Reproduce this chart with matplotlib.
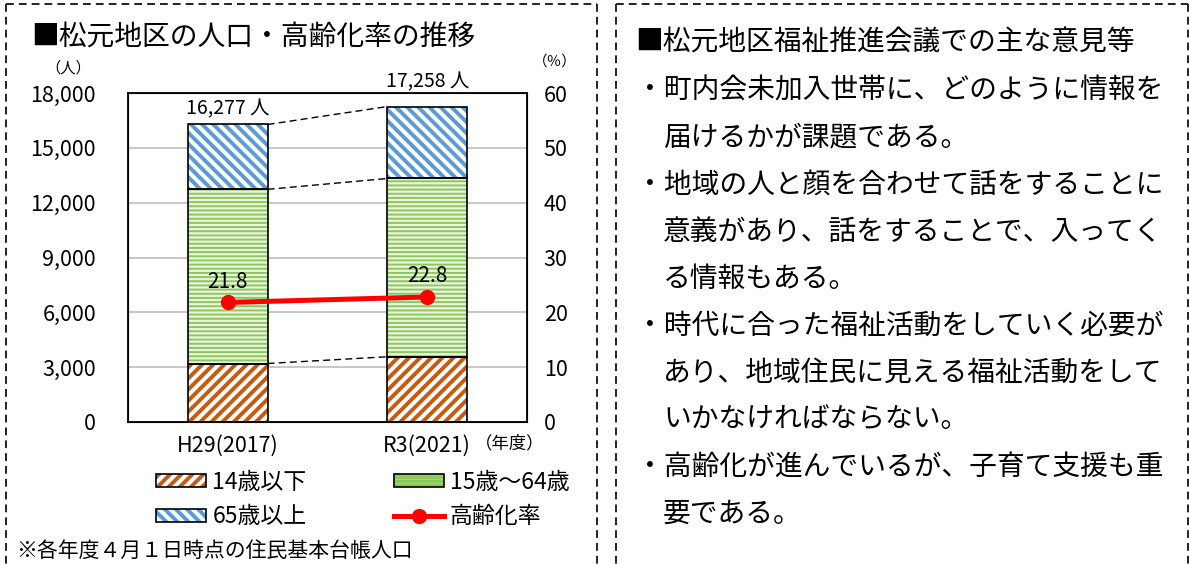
import matplotlib.pyplot as plt
import matplotlib.patches as mpatches
from matplotlib.lines import Line2D
import numpy as np

plt.rcParams['font.family'] = ['Noto Sans CJK JP', 'DejaVu Sans']

# population by age group (people) and aging rate (%)
years = ["H29(2017)", "R3(2021)"]
age_0_14 = [3200, 3570]
age_15_64 = [9529, 9753]
age_65_up = [3548, 3935]
totals = [16277, 17258]
aging_rate = [21.8, 22.8]

left_ticks = [0, 3000, 6000, 9000, 12000, 15000, 18000]
right_ticks = [0, 10, 20, 30, 40, 50, 60]

series_names = ["14歳以下", "15歳～64歳", "65歳以上", "高齢化率"]

opinions = [
    ("・町内会未加入世帯に、どのように情報を", "届けるかが課題である。"),
    ("・地域の人と顔を合わせて話をすることに", "意義があり、話をすることで、入ってく", "る情報もある。"),
    ("・時代に合った福祉活動をしていく必要が", "あり、地域住民に見える福祉活動をして", "いかなければならない。"),
    ("・高齢化が進んでいるが、子育て支援も重", "要である。"),
]

W, H = 1190, 564
fig = plt.figure(figsize=(W / 100, H / 100), dpi=100)


def fx(px):
    return px / W


def fy(py):
    return 1 - py / H


# dashed frames around the two panels
box_style = dict(color="#222222", lw=1.4, linestyle=(0, (4, 2.6)), transform=fig.transFigure)
for x0, x1 in [(6, 597), (616, 1188)]:
    fig.add_artist(Line2D([fx(x0), fx(x0)], [fy(4), fy(570)], **box_style))
    fig.add_artist(Line2D([fx(x1), fx(x1)], [fy(4), fy(570)], **box_style))
    fig.add_artist(Line2D([fx(x0), fx(x1)], [fy(4), fy(4)], **box_style))

fig.text(fx(31), fy(38), "■松元地区の人口・高齢化率の推移", fontsize=20, va="center", ha="left")

# --- stacked bar chart ---
ax = fig.add_axes([fx(128), fy(422), fx(527) - fx(128), fy(93) - fy(422)])
x = np.arange(len(years))
bw = 0.4

bottoms = np.zeros(len(years))
groups = [
    (age_0_14, "white", "#C55A11", "///", 2.8),
    (age_15_64, "#EAF4E0", "#8CC85A", "----", 1.4),
    (age_65_up, "white", "#5B9BD5", "\\\\\\", 2.8),
]
legend_patches = []
for vals, face, hcol, hatch, hlw in groups:
    plt.rcParams['hatch.linewidth'] = hlw
    bars = ax.bar(x, vals, bw, bottom=bottoms, color=face, edgecolor=hcol, hatch=hatch, linewidth=0, zorder=2)
    for b in bars:
        if hasattr(b, "set_hatch_linewidth"):
            b.set_hatch_linewidth(hlw)
    ax.bar(x, vals, bw, bottom=bottoms, fill=False, edgecolor="black", linewidth=1.2, zorder=3)
    hp = mpatches.Patch(facecolor=face, edgecolor=hcol, hatch=hatch, linewidth=0)
    if hasattr(hp, "set_hatch_linewidth"):
        hp.set_hatch_linewidth(hlw)
    legend_patches.append((hp, mpatches.Patch(fill=False, edgecolor="black", linewidth=1.2)))
    bottoms = bottoms + np.array(vals)

# dashed connectors between stack boundaries
cum = np.cumsum([age_0_14, age_15_64, age_65_up], axis=0)
for level in cum:
    ax.plot([x[0] + bw / 2, x[1] - bw / 2], [level[0], level[1]], color="black", lw=1.0,
            linestyle=(0, (5, 3)), zorder=3)

# total labels; the taller bar's label sits above the plot frame
for xi, t, off in zip(x, totals, [4, 10]):
    ax.annotate(f"{t:,} 人", (xi, t), xytext=(0, off), textcoords="offset points",
                ha="center", va="bottom", fontsize=14, annotation_clip=False, zorder=6)

ax.set_xlim(-0.5, 1.5)
ax.set_ylim(0, 18000)
ax.set_yticks(left_ticks)
ax.set_yticklabels([f"{v:,}" for v in left_ticks])
ax.set_xticks(x)
ax.set_xticklabels(years)
ax.tick_params(axis="y", length=0, pad=23, labelsize=15.5)
ax.tick_params(axis="x", length=0, pad=9, labelsize=15.5)
ax.grid(axis="y", color="#BFBFBF", lw=1.2, zorder=0)
ax.set_axisbelow(True)
for s in ax.spines.values():
    s.set_linewidth(1.3)
    s.set_color("black")

# aging rate on the secondary axis
ax2 = ax.twinx()
ax2.set_ylim(0, 60)
ax2.set_yticks(right_ticks)
ax2.tick_params(axis="y", length=0, pad=12, labelsize=15.5)
ax2.plot(x, aging_rate, color="red", lw=3.6, marker="o", markersize=10, zorder=5)
for xi, r in zip(x, aging_rate):
    ax2.annotate(f"{r:.1f}", (xi, r), xytext=(0, 7), textcoords="offset points",
                 ha="center", va="bottom", fontsize=15)
ax2.set_xlim(-0.5, 1.5)

fig.text(fx(68), fy(68), "（人）", fontsize=11, ha="center", va="center")
fig.text(fx(555), fy(62), "（％）", fontsize=10.5, ha="center", va="center")
fig.text(fx(510), fy(443), "（年度）", fontsize=12.5, ha="center", va="center")

rate_handle = Line2D([], [], color="red", lw=3.6, marker="o", markersize=10)
handles = [legend_patches[0], legend_patches[2], legend_patches[1], rate_handle]
labels = [series_names[0], series_names[2], series_names[1], series_names[3]]
fig.legend(handles, labels, ncol=2, loc="upper left", bbox_to_anchor=(fx(156), fy(471)),
           frameon=False, fontsize=16.5, handlelength=2.2, handleheight=0.5, handletextpad=0.26,
           columnspacing=3.8, labelspacing=0.5, borderpad=0, borderaxespad=0)

fig.text(fx(16), fy(551), "※各年度４月１日時点の住民基本台帳人口", fontsize=15, ha="left", va="center")

# --- opinions panel ---
fig.text(fx(635), fy(43), "■松元地区福祉推進会議での主な意見等", fontsize=20, ha="left", va="center")
row = 0
for item in opinions:
    for j, line in enumerate(item):
        xpos = 636 if j == 0 else 663
        fig.text(fx(xpos), fy(91 + 47 * row), line, fontsize=20, ha="left", va="center")
        row += 1

fig.savefig("out.png", dpi=100)
